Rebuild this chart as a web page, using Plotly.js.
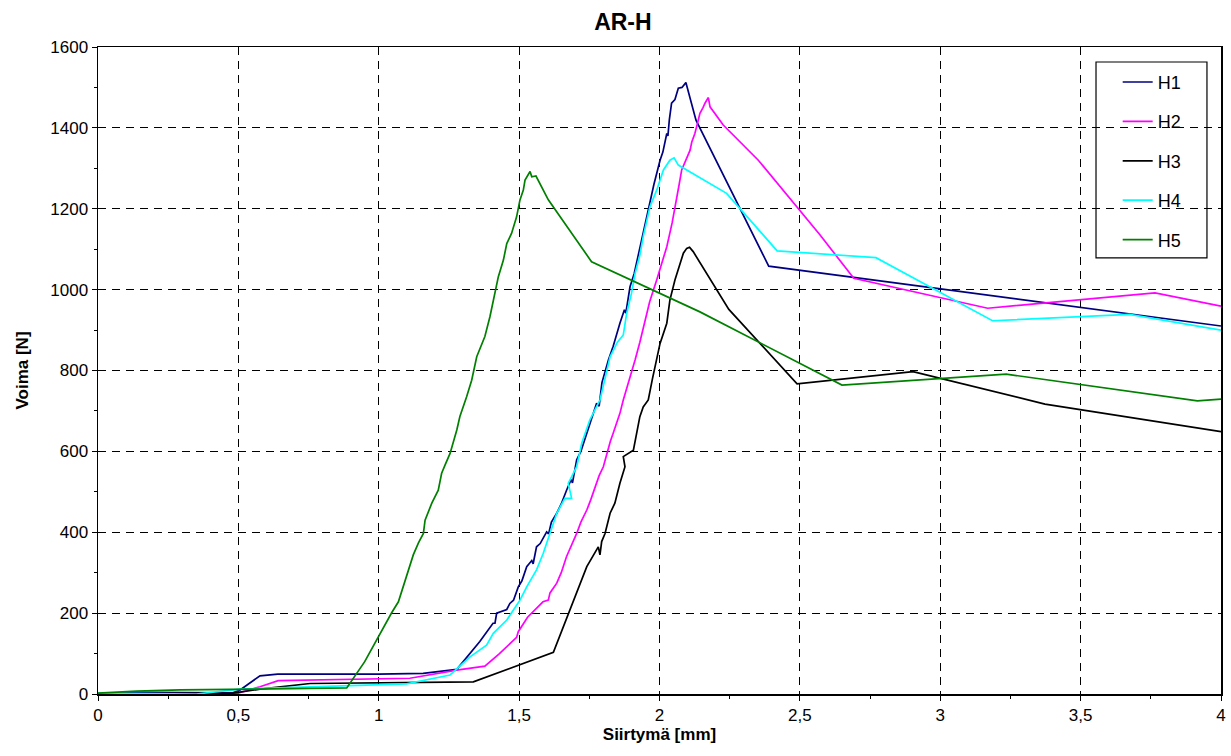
<!DOCTYPE html>
<html><head><meta charset="utf-8">
<script src="https://cdn.plot.ly/plotly-3.0.1.min.js"></script>
<style>html,body{margin:0;padding:0;background:#fff}#chart{width:1231px;height:756px}</style>
</head><body><div id="chart"></div>
<script>
const seriesNames = ["H1", "H2", "H3", "H4", "H5"];

const h1X = [0, 0.15, 0.48, 0.506, 0.577, 0.64, 1.0, 1.158, 1.278, 1.36, 1.407, 1.414, 1.42, 1.456, 1.467, 1.48, 1.497, 1.51, 1.527, 1.545, 1.55, 1.562, 1.575, 1.598, 1.605, 1.615, 1.634, 1.65, 1.669, 1.685, 1.69, 1.705, 1.72, 1.741, 1.755, 1.776, 1.785, 1.795, 1.818, 1.835, 1.859, 1.875, 1.88, 1.895, 1.91, 1.931, 1.945, 1.966, 1.98, 2.002, 2.012, 2.026, 2.03, 2.035, 2.043, 2.055, 2.067, 2.08, 2.094, 2.13, 2.389, 4.0];
const h1Y = [0, 4, 3, 10, 45, 49, 49, 51, 61, 130, 175, 175, 200, 209, 224, 232, 265, 280, 315, 330, 322, 364, 372, 401, 396, 425, 447, 470, 504, 530, 522, 579, 600, 645, 670, 719, 712, 770, 826, 860, 917, 950, 942, 1007, 1040, 1106, 1150, 1222, 1260, 1320, 1340, 1386, 1380, 1420, 1461, 1470, 1498, 1500, 1512, 1419, 1058, 910];

const h2X = [0, 0.35, 0.494, 0.577, 0.642, 1.111, 1.278, 1.378, 1.43, 1.491, 1.497, 1.53, 1.569, 1.585, 1.604, 1.61, 1.634, 1.65, 1.669, 1.685, 1.705, 1.72, 1.741, 1.755, 1.77, 1.785, 1.8, 1.81, 1.818, 1.825, 1.835, 1.845, 1.859, 1.871, 1.89, 1.913, 1.93, 1.948, 1.965, 1.99, 2.005, 2.026, 2.045, 2.061, 2.07, 2.079, 2.095, 2.109, 2.115, 2.126, 2.135, 2.144, 2.155, 2.162, 2.174, 2.18, 2.227, 2.352, 2.572, 2.692, 3.169, 3.765, 4.0];
const h2Y = [0, 0, 1, 18, 33, 39, 59, 69, 100, 140, 154, 190, 216, 228, 232, 250, 274, 300, 340, 365, 397, 425, 455, 480, 513, 540, 562, 590, 612, 625, 645, 665, 694, 727, 770, 826, 870, 925, 970, 1024, 1060, 1106, 1165, 1222, 1260, 1296, 1320, 1345, 1365, 1386, 1410, 1436, 1450, 1461, 1475, 1452, 1407, 1320, 1135, 1028, 954, 992, 959];

const h3X = [0, 0.48, 0.577, 0.755, 1.337, 1.622, 1.741, 1.782, 1.788, 1.794, 1.806, 1.824, 1.841, 1.859, 1.877, 1.871, 1.907, 1.919, 1.93, 1.942, 1.96, 1.975, 1.99, 2.002, 2.026, 2.037, 2.055, 2.073, 2.085, 2.097, 2.107, 2.114, 2.12, 2.247, 2.49, 2.903, 3.373, 4.0];
const h3Y = [0, 2, 12, 26, 30, 103, 315, 364, 344, 377, 397, 447, 472, 521, 562, 587, 603, 645, 686, 710, 727, 780, 826, 867, 917, 974, 1024, 1065, 1090, 1102, 1105, 1099, 1094, 951, 767, 797, 717, 649];

const h4X = [0, 0.35, 0.506, 1.099, 1.254, 1.325, 1.384, 1.408, 1.456, 1.503, 1.527, 1.545, 1.562, 1.586, 1.61, 1.634, 1.663, 1.687, 1.675, 1.705, 1.723, 1.752, 1.788, 1.824, 1.85, 1.871, 1.883, 1.9, 1.913, 1.93, 1.942, 1.955, 1.966, 1.99, 2.014, 2.037, 2.052, 2.067, 2.239, 2.419, 2.771, 3.186, 3.674, 4.0];
const h4Y = [2, 0, 12, 25, 47, 92, 121, 150, 183, 232, 265, 285, 307, 348, 397, 447, 484, 484, 521, 562, 620, 678, 727, 834, 870, 888, 941, 990, 1040, 1085, 1131, 1170, 1205, 1246, 1296, 1320, 1326, 1308, 1238, 1096, 1079, 923, 939, 900];

const h5X = [0, 0.138, 0.292, 0.886, 0.95, 0.993, 1.01, 1.046, 1.07, 1.082, 1.099, 1.111, 1.123, 1.141, 1.159, 1.165, 1.189, 1.212, 1.224, 1.236, 1.254, 1.278, 1.289, 1.313, 1.331, 1.349, 1.378, 1.396, 1.414, 1.426, 1.444, 1.456, 1.473, 1.491, 1.503, 1.515, 1.521, 1.539, 1.545, 1.56, 1.604, 1.758, 2.144, 2.65, 3.235, 3.916, 4.0];
const h5Y = [2, 7, 10, 15, 80, 134, 158, 201, 228, 253, 290, 315, 344, 373, 397, 430, 472, 504, 546, 566, 595, 653, 686, 735, 776, 834, 884, 933, 991, 1032, 1073, 1114, 1139, 1180, 1222, 1246, 1271, 1292, 1279, 1281, 1222, 1069, 945, 764, 791, 725, 729];

const xTickVals = [0, 0.5, 1, 1.5, 2, 2.5, 3, 3.5, 4];
const xTickText = ["0", "0,5", "1", "1,5", "2", "2,5", "3", "3,5", "4"];
const yTickVals = [0, 200, 400, 600, 800, 1000, 1200, 1400, 1600];
const yTickText = ["0", "200", "400", "600", "800", "1000", "1200", "1400", "1600"];

const FONT = "Liberation Sans, Arial, sans-serif";
const xs = [h1X, h2X, h3X, h4X, h5X];
const ys = [h1Y, h2Y, h3Y, h4Y, h5Y];
const colors = ["#000080", "#FF00FF", "#000000", "#00FFFF", "#008000"];

const traces = seriesNames.map((n, i) => ({
  x: xs[i], y: ys[i], name: n, type: "scatter", mode: "lines",
  line: {color: colors[i], width: 1.7},
  legendgroup: "g" + i
}));

const layout = {
  width: 1231, height: 756,
  margin: {l: 98, r: 10, t: 47, b: 62},
  paper_bgcolor: "#fff", plot_bgcolor: "#fff",
  font: {family: FONT, color: "#000", size: 17},
  separators: ", ",
  title: {text: "<b>AR-H</b>", font: {size: 23, family: FONT, color: "#000"},
          x: 0.506, xref: "container", xanchor: "center", y: 0.971, yref: "container", yanchor: "middle"},
  xaxis: {
    range: [0, 4], tickvals: xTickVals, ticktext: xTickText,
    ticks: "outside", ticklen: 5, tickwidth: 1, tickcolor: "#000",
    showline: true, linecolor: "#000", linewidth: 1.5, mirror: true,
    showgrid: true, gridcolor: "#000", gridwidth: 1, griddash: "8px,6px",
    zeroline: false, tickfont: {size: 17},
    minor: {dtick: 0.25, ticks: "outside", ticklen: 3, tickcolor: "#000", showgrid: false},
    title: {text: "<b>Siirtymä [mm]</b>", font: {size: 17}, standoff: 4}
  },
  yaxis: {
    range: [0, 1600], tickvals: yTickVals, ticktext: yTickText,
    ticks: "outside", ticklen: 5, tickwidth: 1, tickcolor: "#000",
    showline: true, linecolor: "#000", linewidth: 1.5, mirror: true,
    showgrid: true, gridcolor: "#000", gridwidth: 1, griddash: "8px,6px",
    zeroline: false, tickfont: {size: 17},
    minor: {dtick: 100, ticks: "outside", ticklen: 3, tickcolor: "#000", showgrid: false},
    title: {text: "<b>Voima [N]</b>", font: {size: 17}, standoff: 17}
  },
  legend: {
    x: 0.908, xanchor: "left", y: 0.974, yanchor: "top",
    bgcolor: "rgba(0,0,0,0)", borderwidth: 0,
    font: {size: 18, family: FONT}, tracegroupgap: 13
  },
  shapes: [{
    type: "rect", xref: "paper", yref: "paper",
    x0: 0.8887, x1: 0.9875, y0: 0.674, y1: 0.9768,
    line: {color: "#000", width: 1.2}, fillcolor: "#fff", layer: "below"
  }],
  showlegend: true
};

Plotly.newPlot("chart", traces, layout, {displayModeBar: false, staticPlot: true});
</script>
</body></html>
